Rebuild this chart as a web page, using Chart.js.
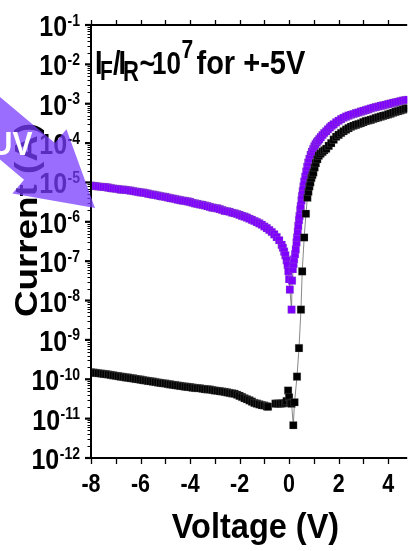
<!DOCTYPE html>
<html><head><meta charset="utf-8">
<script src="https://cdn.jsdelivr.net/npm/chart.js@4/dist/chart.umd.min.js"></script>
<style>html,body{margin:0;padding:0;background:#fff;}canvas{display:block;}</style>
</head><body>
<canvas id="c" width="413" height="551"></canvas>
<script>
// ---- data ----
const uvVoltage = [-8.0,-7.9,-7.8,-7.7,-7.6,-7.5,-7.4,-7.3,-7.2,-7.1,-7.0,-6.9,-6.8,-6.7,-6.6,-6.5,-6.4,-6.3,-6.2,-6.1,-6.0,-5.9,-5.8,-5.7,-5.6,-5.5,-5.4,-5.3,-5.2,-5.1,-5.0,-4.9,-4.8,-4.7,-4.6,-4.5,-4.4,-4.3,-4.2,-4.1,-4.0,-3.9,-3.8,-3.7,-3.6,-3.5,-3.4,-3.3,-3.2,-3.1,-3.0,-2.9,-2.8,-2.7,-2.6,-2.5,-2.4,-2.3,-2.2,-2.1,-2.0,-1.9,-1.8,-1.7,-1.6,-1.5,-1.4,-1.3,-1.2,-1.1,-1.0,-0.9,-0.8,-0.7,-0.6,-0.5,-0.4,-0.3,-0.25,-0.2,-0.15,-0.1,-0.06,-0.03,0.0,0.03,0.1,0.12,0.15,0.18,0.2,0.24,0.27,0.3,0.32,0.35,0.37,0.4,0.42,0.45,0.47,0.5,0.52,0.55,0.58,0.61,0.65,0.69,0.73,0.77,0.82,0.87,0.92,0.97,1.02,1.07,1.12,1.17,1.22,1.28,1.35,1.42,1.5,1.57,1.65,1.72,1.8,1.9,2.0,2.1,2.2,2.3,2.4,2.5,2.6,2.7,2.8,2.9,3.0,3.1,3.2,3.3,3.4,3.5,3.6,3.7,3.8,3.9,4.0,4.1,4.2,4.3,4.4,4.5,4.6,4.7,4.8];
const uvCurrent = [8.3e-6,8.2e-6,8.1e-6,7.9e-6,7.8e-6,7.7e-6,7.6e-6,7.4e-6,7.2e-6,7.0e-6,6.9e-6,6.8e-6,6.6e-6,6.55e-6,6.5e-6,6.35e-6,6.2e-6,6.05e-6,5.9e-6,5.75e-6,5.6e-6,5.5e-6,5.4e-6,5.2e-6,5.0e-6,4.9e-6,4.8e-6,4.65e-6,4.5e-6,4.4e-6,4.3e-6,4.15e-6,4.0e-6,3.9e-6,3.8e-6,3.65e-6,3.55e-6,3.45e-6,3.4e-6,3.3e-6,3.2e-6,3.05e-6,2.95e-6,2.85e-6,2.75e-6,2.7e-6,2.6e-6,2.5e-6,2.4e-6,2.3e-6,2.25e-6,2.2e-6,2.1e-6,2.0e-6,1.9e-6,1.85e-6,1.8e-6,1.7e-6,1.65e-6,1.58e-6,1.5e-6,1.42e-6,1.35e-6,1.28e-6,1.2e-6,1.12e-6,1.05e-6,9.8e-7,9.1e-7,8.4e-7,7.6e-7,6.9e-7,6.2e-7,5.5e-7,4.8e-7,4.1e-7,3.4e-7,2.6e-7,2.2e-7,1.75e-7,1.4e-7,1.05e-7,8.0e-8,5.6e-8,3.5e-8,1.9e-8,5.9e-9,3.2e-8,6.3e-8,8.5e-8,1.12e-7,1.5e-7,2.0e-7,3.0e-7,4.0e-7,5.6e-7,7.9e-7,1.1e-6,1.4e-6,2.0e-6,2.5e-6,3.5e-6,4.5e-6,6.0e-6,7.9e-6,1.05e-5,1.4e-5,1.9e-5,2.5e-5,3.2e-5,4.0e-5,5.0e-5,6.0e-5,7.1e-5,8.3e-5,9.4e-5,1.05e-4,1.15e-4,1.26e-4,1.42e-4,1.6e-4,1.8e-4,2.0e-4,2.25e-4,2.5e-4,2.75e-4,3.0e-4,3.35e-4,3.7e-4,4.05e-4,4.4e-4,4.7e-4,5.0e-4,5.25e-4,5.5e-4,5.75e-4,6.0e-4,6.3e-4,6.6e-4,6.9e-4,7.2e-4,7.55e-4,7.9e-4,8.2e-4,8.5e-4,8.8e-4,9.1e-4,9.4e-4,9.8e-4,1.01e-3,1.05e-3,1.08e-3,1.12e-3,1.16e-3,1.2e-3,1.23e-3,1.26e-3];

const darkVoltage = [-8.0,-7.9,-7.8,-7.7,-7.6,-7.5,-7.4,-7.3,-7.2,-7.1,-7.0,-6.9,-6.8,-6.7,-6.6,-6.5,-6.4,-6.3,-6.2,-6.1,-6.0,-5.9,-5.8,-5.7,-5.6,-5.5,-5.4,-5.3,-5.2,-5.1,-5.0,-4.9,-4.8,-4.7,-4.6,-4.5,-4.4,-4.3,-4.2,-4.1,-4.0,-3.9,-3.8,-3.7,-3.6,-3.5,-3.4,-3.3,-3.2,-3.1,-3.0,-2.9,-2.8,-2.7,-2.6,-2.5,-2.4,-2.3,-2.2,-2.1,-2.0,-1.9,-1.8,-1.7,-1.6,-1.5,-1.4,-1.3,-1.2,-1.1,-1.0,-0.9,-0.85,-0.7,-0.55,-0.45,-0.35,-0.25,-0.15,-0.1,-0.04,0.0,0.05,0.1,0.17,0.22,0.32,0.40,0.48,0.53,0.61,0.68,0.74,0.78,0.82,0.86,0.90,0.94,0.98,1.03,1.08,1.14,1.2,1.27,1.35,1.42,1.5,1.6,1.7,1.8,1.9,2.0,2.1,2.2,2.3,2.4,2.5,2.6,2.7,2.8,2.9,3.0,3.1,3.2,3.3,3.4,3.5,3.6,3.7,3.8,3.9,4.0,4.1,4.2,4.3,4.4,4.5,4.6,4.7,4.8];
const darkCurrent = [1.5e-10,1.48e-10,1.45e-10,1.42e-10,1.4e-10,1.37e-10,1.35e-10,1.32e-10,1.29e-10,1.26e-10,1.23e-10,1.2e-10,1.17e-10,1.15e-10,1.12e-10,1.1e-10,1.07e-10,1.05e-10,1.02e-10,1.0e-10,9.8e-11,9.5e-11,9.3e-11,9.1e-11,8.9e-11,8.7e-11,8.5e-11,8.3e-11,8.1e-11,7.9e-11,7.8e-11,7.6e-11,7.4e-11,7.25e-11,7.1e-11,6.95e-11,6.8e-11,6.65e-11,6.5e-11,6.4e-11,6.3e-11,6.15e-11,6.0e-11,5.95e-11,5.9e-11,5.75e-11,5.6e-11,5.55e-11,5.5e-11,5.35e-11,5.2e-11,5.1e-11,5.0e-11,4.9e-11,4.8e-11,4.65e-11,4.5e-11,4.4e-11,4.3e-11,4.05e-11,3.8e-11,3.55e-11,3.3e-11,3.1e-11,2.9e-11,2.7e-11,2.5e-11,2.4e-11,2.3e-11,2.2e-11,2.15e-11,2.05e-11,2.0e-11,null,2.4e-11,2.4e-11,2.4e-11,2.45e-11,2.5e-11,2.8e-11,5.2e-11,3.5e-11,2.5e-11,2.4e-11,6.8e-12,2.6e-11,1.17e-10,6.2e-10,5.9e-9,5.5e-8,4.0e-7,1.6e-6,4.1e-6,5.8e-6,7.9e-6,1.0e-5,1.3e-5,1.55e-5,1.8e-5,2.4e-5,3.1e-5,3.9e-5,4.8e-5,5.4e-5,6.0e-5,6.6e-5,7.2e-5,8.5e-5,1.0e-4,1.22e-4,1.45e-4,1.62e-4,1.8e-4,2.0e-4,2.2e-4,2.4e-4,2.6e-4,2.75e-4,2.9e-4,3.05e-4,3.2e-4,3.4e-4,3.6e-4,3.75e-4,3.9e-4,4.1e-4,4.3e-4,4.5e-4,4.7e-4,4.9e-4,5.1e-4,5.35e-4,5.6e-4,5.9e-4,6.2e-4,6.5e-4,6.8e-4,7.1e-4,7.4e-4,7.6e-4];

const xTickValues = [-8,-6,-4,-2,0,2,4];
const xTickLabels = ['-8','-6','-4','-2','0','2','4'];
const yDecadeExponents = [-1,-2,-3,-4,-5,-6,-7,-8,-9,-10,-11,-12];
const xAxisTitle = 'Voltage (V)';
const yAxisTitle = 'Current (A)';

// ---- drawing helpers ----
const FONT = '"Liberation Sans", Arial, Helvetica, sans-serif';
function txt(ctx, s, x, y, size, sy, align, sx) {
  ctx.save();
  ctx.translate(x, y);
  ctx.scale(sx || 1, sy || 1);
  ctx.font = 'bold ' + size + 'px ' + FONT;
  ctx.textAlign = align || 'left';
  ctx.textBaseline = 'alphabetic';
  ctx.fillText(s, 0, 0);
  ctx.restore();
}
function seg(ctx, x1, y1, x2, y2) { ctx.beginPath(); ctx.moveTo(x1, y1); ctx.lineTo(x2, y2); ctx.stroke(); }

const decor = {
  id: 'decor',
  afterDraw(chart) {
    const ctx = chart.ctx, xs = chart.scales.x, ys = chart.scales.y, a = chart.chartArea;
    ctx.save();
    ctx.fillStyle = '#000'; ctx.strokeStyle = '#000';
    // axis lines
    ctx.lineWidth = 2;
    seg(ctx, a.left, a.top - 1, a.left, a.bottom + 1);
    seg(ctx, a.left - 1, a.bottom, a.right, a.bottom);
    seg(ctx, a.left - 1, a.top, a.right, a.top);
    // x ticks (bottom and top, outward) every 1 V
    ctx.lineWidth = 1.3;
    for (let v = Math.ceil(xs.min); v <= Math.floor(xs.max); v++) {
      const px = Math.round(xs.getPixelForValue(v)) + 0.5;
      seg(ctx, px, a.bottom, px, a.bottom + 6);
      seg(ctx, px, a.top, px, a.top - 5);
    }
    // y ticks
    yDecadeExponents.forEach(k => {
      const py = ys.getPixelForValue(Math.pow(10, k));
      ctx.lineWidth = 2.2;
      seg(ctx, a.left - 6, py, a.left, py);
      if (k > -12) {
        ctx.lineWidth = 1;
        for (let m = 2; m <= 9; m++) {
          const p = Math.round(ys.getPixelForValue(m * Math.pow(10, k - 1))) + 0.5;
          seg(ctx, a.left - 3.5, p, a.left, p);
        }
      }
    });
    // y tick labels with superscript exponents
    const rightEdge = 80;
    yDecadeExponents.forEach(k => {
      const py = ys.getPixelForValue(Math.pow(10, k));
      const sup = String(k);
      ctx.font = 'bold 14px ' + FONT;
      const w = ctx.measureText(sup).width;
      txt(ctx, sup, rightEdge - w, py + 0.5, 14, 1.2, 'left');
      txt(ctx, '10', rightEdge - w - 0.5, py + 11, 25, 1.2, 'right');
    });
    // x tick labels
    xTickValues.forEach((v, i) => {
      const px = xs.getPixelForValue(v);
      txt(ctx, xTickLabels[i], px, 492, 21.5, 1.2, 'center');
    });
    // axis titles
    txt(ctx, xAxisTitle, (a.left + 420) / 2, 538, 32.5, 1.08, 'center');
    ctx.save();
    ctx.translate(37, 220);
    ctx.rotate(-Math.PI / 2);
    ctx.scale(1.15, 1);
    ctx.font = 'bold 32px ' + FONT;
    ctx.textAlign = 'center'; ctx.textBaseline = 'alphabetic';
    ctx.fillText(yAxisTitle, 0, 0);
    ctx.restore();
    // annotation  I_F/I_R~10^7 for +-5V
    txt(ctx, 'I', 95, 74, 27, 1.2);
    txt(ctx, 'F', 100, 80, 21, 1.35);
    txt(ctx, '/', 113, 74, 27, 1.2);
    txt(ctx, 'I', 118.5, 74, 27, 1.2);
    txt(ctx, 'R', 123, 81, 22, 1.3);
    txt(ctx, '~', 139.5, 74, 27, 1.2);
    txt(ctx, '10', 152, 74, 26, 1.2);
    txt(ctx, '7', 181.5, 58, 21, 1.2);
    txt(ctx, 'for +-5V', 196.5, 74, 29, 1.15);
    // UV arrow
    const tip = [95, 208], ang = 40 * Math.PI / 180;
    const d = [Math.cos(ang), Math.sin(ang)], n = [-Math.sin(ang), Math.cos(ang)];
    const headLen = 72.5, headHalf = 42, shaftHalf = 24, shaftLen = 200;
    const B = [tip[0] - headLen * d[0], tip[1] - headLen * d[1]];
    const P = (base, s, t) => [base[0] + s * n[0] + t * d[0], base[1] + s * n[1] + t * d[1]];
    const pts = [P(B, -shaftHalf, -shaftLen), P(B, -shaftHalf, 0), P(B, -headHalf, 0), tip,
                 P(B, headHalf, 0), P(B, shaftHalf, 0), P(B, shaftHalf, -shaftLen)];
    ctx.fillStyle = 'rgba(120,60,255,0.75)';
    ctx.beginPath();
    pts.forEach((p, i) => i ? ctx.lineTo(p[0], p[1]) : ctx.moveTo(p[0], p[1]));
    ctx.closePath(); ctx.fill();
    ctx.fillStyle = '#fff';
    txt(ctx, 'UV', 32.5, 155, 30, 1.09, 'right');
    ctx.restore();
  }
};

const toPts = (xs, ys) => xs.map((x, i) => ({ x: x, y: ys[i] }));

new Chart(document.getElementById('c'), {
  type: 'line',
  data: {
    datasets: [
      {
        label: 'Dark',
        data: toPts(darkVoltage, darkCurrent),
        borderColor: '#6a6a6a', borderWidth: 0.8,
        pointStyle: 'rect', pointRadius: 5.4,
        pointBackgroundColor: '#000', pointBorderColor: 'rgba(150,150,150,0.6)', pointBorderWidth: 0.4,
        spanGaps: false, tension: 0
      },
      {
        label: 'UV',
        data: toPts(uvVoltage, uvCurrent),
        borderColor: '#6a6a6a', borderWidth: 0.8,
        pointStyle: 'rect', pointRadius: 5.4,
        pointBackgroundColor: '#7f00ff', pointBorderColor: 'rgba(150,150,150,0.6)', pointBorderWidth: 0.4,
        tension: 0
      }
    ]
  },
  options: {
    responsive: false, devicePixelRatio: 1, animation: false,
    layout: { padding: { left: 91, top: 25, right: 0, bottom: 93 } },
    plugins: { legend: { display: false }, tooltip: { enabled: false }, title: { display: false } },
    scales: {
      x: { type: 'linear', min: -8, max: 4.77, display: false },
      y: { type: 'logarithmic', min: 1e-12, max: 1e-1, display: false }
    }
  },
  plugins: [decor]
});
</script>
</body></html>
